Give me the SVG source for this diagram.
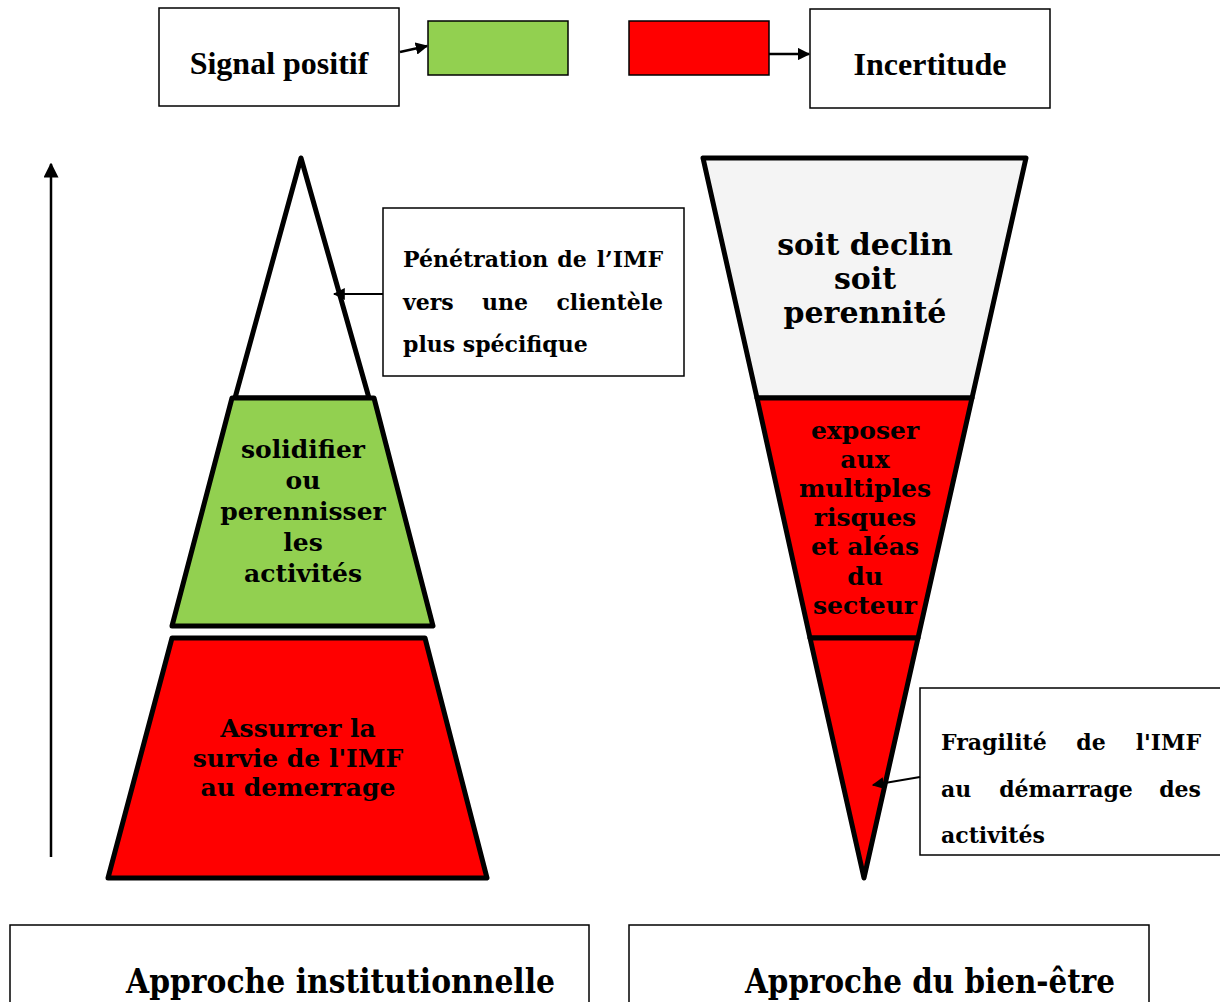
<svg xmlns="http://www.w3.org/2000/svg" width="1220" height="1002" viewBox="0 0 1220 1002">
<defs>
<marker id="ah" viewBox="0 0 10 10" refX="9" refY="5" markerWidth="5" markerHeight="5" orient="auto" markerUnits="strokeWidth">
<path d="M0,0 L10,5 L0,10 z" fill="#000"/>
</marker>
<marker id="ah2" viewBox="0 0 10 10" refX="9" refY="5" markerWidth="6" markerHeight="6" orient="auto" markerUnits="strokeWidth">
<path d="M0,0 L10,5 L0,10 z" fill="#000"/>
</marker>
</defs>
<style>
.box{fill:#fff;stroke:#000;stroke-width:1.5}
.shape{stroke:#000;stroke-width:5;stroke-linejoin:round}
.tnr{font-family:"Liberation Serif","Times New Roman",serif;font-weight:bold;font-size:32px;fill:#000}
.bk{font-family:"DejaVu Serif","Liberation Serif",serif;font-weight:bold;fill:#000}
.conn{stroke:#000;fill:none}
</style>
<rect width="1220" height="1002" fill="#fff"/>

<g id="legend-signal">
<rect class="box" x="159" y="8" width="240" height="98"/>
<text class="tnr" x="279" y="74" text-anchor="middle">Signal positif</text>
</g>
<g id="legend-green">
<rect x="428" y="21" width="140" height="54" fill="#92D050" stroke="#000" stroke-width="1.5"/>
</g>
<g id="legend-red">
<rect x="629" y="21" width="140" height="54" fill="#FF0000" stroke="#000" stroke-width="1.5"/>
</g>
<g id="legend-incertitude">
<rect class="box" x="810" y="9" width="240" height="99"/>
<text class="tnr" x="930" y="75" text-anchor="middle">Incertitude</text>
</g>

<g id="pyramid-top">
<polygon class="shape" points="301,158 235,398 369,398" fill="#fff"/>
</g>
<g id="pyramid-middle">
<polygon class="shape" points="232,398 374,398 433,626 172,626" fill="#92D050"/>
<text class="bk" font-size="25" text-anchor="middle"><tspan x="303" y="458">solidifier</tspan><tspan x="303" y="489">ou</tspan><tspan x="303" y="520">perennisser</tspan><tspan x="303" y="551">les</tspan><tspan x="303" y="582">activités</tspan></text>
</g>
<g id="pyramid-base">
<polygon class="shape" points="172,638 425,638 487,878 108,878" fill="#FF0000"/>
<text class="bk" font-size="25" text-anchor="middle"><tspan x="298" y="737">Assurrer la</tspan><tspan x="298" y="767">survie de l'IMF</tspan><tspan x="298" y="796">au demerrage</tspan></text>
</g>

<g id="callout-penetration">
<rect class="box" x="383" y="208" width="301" height="168"/>
<text class="bk" font-size="22"><tspan x="403" y="267">Pénétration</tspan><tspan x="572" y="267" text-anchor="middle">de</tspan><tspan x="663" y="267" text-anchor="end">l’IMF</tspan><tspan x="403" y="310">vers</tspan><tspan x="505" y="310" text-anchor="middle">une</tspan><tspan x="663" y="310" text-anchor="end">clientèle</tspan><tspan x="403" y="352">plus spécifique</tspan></text>
</g>

<g id="funnel-top">
<polygon class="shape" points="703,158 1026,158 972,398 757,398" fill="#F4F4F4"/>
<text class="bk" font-size="30" text-anchor="middle"><tspan x="865" y="255">soit declin</tspan><tspan x="865" y="289">soit</tspan><tspan x="865" y="323">perennité</tspan></text>
</g>
<g id="funnel-middle">
<polygon class="shape" points="757,398 972,398 918,638 810,638" fill="#FF0000"/>
<text class="bk" font-size="25" text-anchor="middle"><tspan x="865" y="439">exposer</tspan><tspan x="865" y="468">aux</tspan><tspan x="865" y="497">multiples</tspan><tspan x="865" y="526">risques</tspan><tspan x="865" y="555">et aléas</tspan><tspan x="865" y="585">du</tspan><tspan x="865" y="614">secteur</tspan></text>
</g>
<g id="funnel-bottom">
<polygon class="shape" points="810,638 918,638 864,878" fill="#FF0000"/>
</g>

<g id="callout-fragilite">
<rect class="box" x="920" y="688" width="310" height="167"/>
<text class="bk" font-size="22"><tspan x="941" y="750">Fragilité</tspan><tspan x="1091" y="750" text-anchor="middle">de</tspan><tspan x="1201" y="750" text-anchor="end">l'IMF</tspan><tspan x="941" y="797">au</tspan><tspan x="1066" y="797" text-anchor="middle">démarrage</tspan><tspan x="1201" y="797" text-anchor="end">des</tspan><tspan x="941" y="843">activités</tspan></text>
</g>

<g id="label-institutionnelle">
<rect class="box" x="10" y="925" width="579" height="100"/>
<text class="bk" font-size="33" x="126" y="993" textLength="429" lengthAdjust="spacingAndGlyphs">Approche institutionnelle</text>
</g>
<g id="label-bien-etre">
<rect class="box" x="629" y="925" width="520" height="100"/>
<text class="bk" font-size="33" x="745" y="993" textLength="370" lengthAdjust="spacingAndGlyphs">Approche du bien-être</text>
</g>

<g id="connectors">
<line class="conn" x1="400" y1="52" x2="427" y2="46" stroke-width="2.5" marker-end="url(#ah)"/>
<line class="conn" x1="769" y1="54" x2="809" y2="54" stroke-width="2.5" marker-end="url(#ah)"/>
<line class="conn" x1="51" y1="857" x2="51" y2="164" stroke-width="2.5" marker-end="url(#ah2)"/>
<line class="conn" x1="383" y1="294" x2="334" y2="294" stroke-width="2" marker-end="url(#ah2)"/>
<line class="conn" x1="920" y1="777" x2="873" y2="785" stroke-width="2" marker-end="url(#ah2)"/>
</g>
</svg>
